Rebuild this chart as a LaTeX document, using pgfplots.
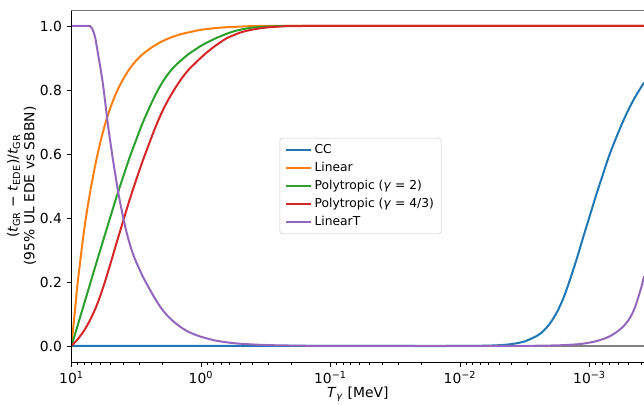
\documentclass[border=0pt]{standalone}
\usepackage{fontspec}
\setmainfont{DejaVu Sans}
\usepackage{pgfplots}
\pgfplotsset{compat=1.18}
\usetikzlibrary{calc}
\definecolor{c0}{HTML}{1F77B4}
\definecolor{c1}{HTML}{FF7F0E}
\definecolor{c2}{HTML}{2CA02C}
\definecolor{c3}{HTML}{D62728}
\definecolor{c4}{HTML}{9467BD}
\newcommand{\fs}{\fontsize{10.4}{12.5}\selectfont}
\newcommand{\lfs}{\fontsize{9.2}{11}\selectfont}
\begin{document}
\begin{tikzpicture}
\begin{axis}[name=ax, at={(0,0)}, anchor=south west,
  scale only axis, width=429.4pt, height=264pt,
  xmode=log, x dir=reverse, xmin=3.795e-4, xmax=10, ymin=-0.05, ymax=1.05,
  axis line style={draw=none},
  xtick={10,1,0.1,0.01,0.001},
  xticklabels={10\textsuperscript{1},10\textsuperscript{0},10\textsuperscript{−1},10\textsuperscript{−2},10\textsuperscript{−3}},
  minor xtick={9,8,7,6,5,4,3,2,0.9,0.8,0.7,0.6,0.5,0.4,0.3,0.2,0.09,0.08,0.07,0.06,0.05,0.04,0.03,0.02,0.009,0.008,0.007,0.006,0.005,0.004,0.003,0.002,0.0009,0.0008,0.0007,0.0006,0.0005,0.0004},
  ytick={0,0.2,0.4,0.6,0.8,1.0},
  yticklabels={0.0,0.2,0.4,0.6,0.8,1.0},
  tick align=outside, xtick pos=left, ytick pos=left,
  major tick length=3.6pt, minor tick length=2.1pt,
  tick style={black, line width=0.6pt},
  every tick label/.append style={font=\fs},
  label style={font=\fs},
  xlabel={\textit{T}\textsubscript{\textit{γ}} [MeV]},
  xlabel style={yshift=4.5pt},
  ylabel={(\textit{t}\textsubscript{GR} − \textit{t}\textsubscript{EDE})/\textit{t}\textsubscript{GR}\\(95\% UL EDE vs SBBN)},
  ylabel style={align=center, yshift=-4pt},
  legend cell align=left,
  legend style={at={(0.505,0.5)}, anchor=center, draw=black!20, rounded corners=2pt, fill=white, fill opacity=0.8, text opacity=1, font=\lfs, row sep=1.1pt, inner xsep=3.5pt, inner ysep=2.5pt},
  legend image code/.code={\draw[#1] (0pt,0pt) -- (19pt,0pt);},
]
\addplot[gray, line width=0.8pt, forget plot] coordinates {(10,0) (3.795e-4,0)};
\addplot[c0, line width=1.5pt, smooth, tension=0.5] coordinates {(10,0) (1,0) (0.1,0) (0.03,0) (0.012,0) (7.94e-3,0.00045) (6.31e-3,0.001) (5.01e-3,0.0025) (3.98e-3,0.0061) (3.16e-3,0.0145) (2.51e-3,0.0332) (2.24e-3,0.0493) (2.0e-3,0.0729) (1.78e-3,0.1066) (1.585e-3,0.151) (1.41e-3,0.209) (1.26e-3,0.270) (1.12e-3,0.339) (1e-3,0.404) (8.91e-4,0.470) (7.94e-4,0.532) (7.08e-4,0.593) (6.31e-4,0.645) (5.62e-4,0.694) (5.01e-4,0.738) (4.47e-4,0.776) (3.98e-4,0.810) (3.795e-4,0.823)};
\addlegendentry{CC}
\addplot[c1, line width=1.5pt, smooth, tension=0.5] coordinates {(10,0) (9.7,0.056) (9.4,0.11) (9.0,0.19) (8.5,0.275) (8.0,0.36) (7.5,0.435) (7.0,0.505) (6.5,0.572) (6.0,0.635) (5.5,0.693) (5.0,0.745) (4.5,0.792) (4.0,0.833) (3.5,0.87) (3.0,0.902) (2.5,0.928) (2.0,0.952) (1.5,0.972) (1.0,0.988) (0.7,0.995) (0.5,0.998) (0.35,1) (0.1,1) (0.01,1) (3.795e-4,1)};
\addlegendentry{Linear}
\addplot[c2, line width=1.5pt, smooth, tension=0.5] coordinates {(10,0) (7.94,0.135) (6.31,0.27) (5.01,0.403) (4.47,0.468) (3.98,0.53) (3.55,0.59) (3.16,0.645) (2.82,0.697) (2.51,0.744) (2.24,0.786) (2.0,0.822) (1.78,0.852) (1.58,0.876) (1.41,0.894) (1.26,0.911) (1.12,0.925) (1,0.938) (0.891,0.949) (0.794,0.959) (0.708,0.968) (0.631,0.976) (0.562,0.983) (0.501,0.988) (0.447,0.992) (0.398,0.995) (0.316,0.998) (0.251,0.9995) (0.2,1) (0.01,1) (3.795e-4,1)};
\addlegendentry{Polytropic (\textit{γ} = 2)}
\addplot[c3, line width=1.5pt, smooth, tension=0.5] coordinates {(10,0) (8.91,0.022) (7.94,0.05) (7.08,0.086) (6.31,0.132) (5.62,0.19) (5.01,0.256) (4.47,0.324) (3.98,0.392) (3.55,0.458) (3.16,0.52) (2.82,0.578) (2.51,0.633) (2.24,0.685) (2.0,0.731) (1.78,0.771) (1.58,0.806) (1.41,0.836) (1.26,0.861) (1.12,0.882) (1,0.901) (0.891,0.919) (0.794,0.935) (0.708,0.949) (0.631,0.962) (0.501,0.979) (0.398,0.989) (0.316,0.995) (0.251,0.998) (0.158,1) (0.01,1) (3.795e-4,1)};
\addlegendentry{Polytropic (\textit{γ} = 4/3)}
\addplot[c4, line width=1.5pt, smooth, tension=0.5] coordinates {(10,1) (7.4,1) (7.19,0.999) (7.00,0.995) (6.76,0.982) (6.53,0.96) (6.31,0.925) (6.03,0.878) (5.75,0.826) (5.50,0.765) (5.25,0.697) (5.01,0.638) (4.79,0.584) (4.57,0.532) (4.37,0.484) (4.17,0.44) (3.98,0.40) (3.80,0.364) (3.63,0.333) (3.47,0.306) (3.31,0.282) (3.16,0.262) (2.82,0.218) (2.51,0.18) (2.24,0.145) (2.0,0.115) (1.78,0.091) (1.58,0.072) (1.41,0.057) (1.26,0.045) (1.12,0.036) (1,0.029) (0.794,0.018) (0.631,0.0115) (0.501,0.0072) (0.316,0.003) (0.158,0.0008) (0.1,0.0003) (0.03,0.0001) (0.01,0.0001) (3.16e-3,0.0005) (2.0e-3,0.0015) (1.585e-3,0.0027) (1.26e-3,0.0052) (1.12e-3,0.0074) (1e-3,0.0105) (8.91e-4,0.0148) (7.94e-4,0.021) (7.08e-4,0.029) (6.31e-4,0.041) (5.62e-4,0.057) (5.01e-4,0.08) (4.47e-4,0.119) (3.98e-4,0.184) (3.795e-4,0.218)};
\addlegendentry{LinearT}
\end{axis}
\draw[black, line width=0.6pt] (ax.south west) -- (ax.north west);
\draw[black, line width=0.6pt] (ax.south west) -- (ax.south east);
\draw[black!55, line width=0.6pt] (ax.north west) -- (ax.north east);
\pgfresetboundingbox
\path[use as bounding box] ($(ax.south west)+(-53.6pt,-32.25pt)$) rectangle ($(ax.north east)+(0pt,7.5pt)$);
\end{tikzpicture}
\end{document}
